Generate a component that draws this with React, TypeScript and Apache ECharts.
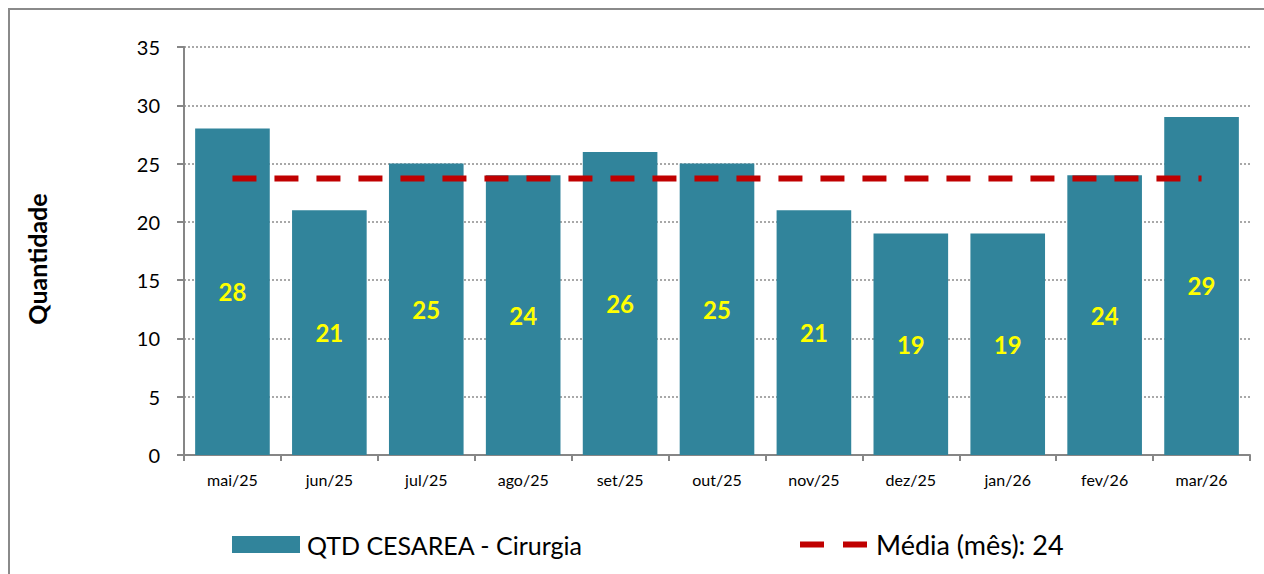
import React, { useEffect, useRef } from "react";
import * as echarts from "echarts";

const categories = ["mai/25", "jun/25", "jul/25", "ago/25", "set/25", "out/25", "nov/25", "dez/25", "jan/26", "fev/26", "mar/26"];
const cesareaValues = [28, 21, 25, 24, 26, 25, 21, 19, 19, 24, 29];
const mediaValues = [23.73, 23.73, 23.73, 23.73, 23.73, 23.73, 23.73, 23.73, 23.73, 23.73, 23.73];
const barName = "QTD CESAREA - Cirurgia";
const mediaName = "Média (mês): 24";
const yTitle = "Quantidade";

const FONT = "Lato, 'Open Sans', sans-serif";

export default function App() {
  const ref = useRef<HTMLDivElement>(null);
  useEffect(() => {
    if (!ref.current) return;
    const chart = echarts.init(ref.current, null, { renderer: "svg" });
    chart.setOption({
      animation: false,
      backgroundColor: "#ffffff",
      textStyle: { fontFamily: FONT },
      graphic: [
        {
          type: "rect",
          shape: { x: 9, y: 9, width: 1400, height: 700 },
          style: { fill: "none", stroke: "#8a8a8a", lineWidth: 2 },
          silent: true,
          z: -10,
        },
        {
          type: "text",
          x: 37,
          y: 259,
          rotation: Math.PI / 2,
          style: {
            text: yTitle,
            fill: "#000",
            font: "bold 25px " + FONT,
            align: "center",
            verticalAlign: "middle",
          },
          silent: true,
        },
      ],
      grid: { left: 184, right: 14, top: 47, bottom: 119 },
      legend: [
        {
          data: [barName],
          left: 232,
          top: 532,
          padding: 0,
          icon: "rect",
          itemWidth: 68,
          itemHeight: 17,
          textStyle: { fontSize: 25, color: "#000", fontFamily: FONT, padding: [0, 0, 0, 2] },
        },
        {
          data: [mediaName],
          left: 800,
          top: 531,
          padding: 0,
          icon: "path://M0,0h24v6h-24z M43,0h24v6h-24z",
          itemWidth: 67,
          itemHeight: 6,
          itemStyle: { color: "#C00000" },
          textStyle: { fontSize: 27, color: "#000", fontFamily: FONT, padding: [0, 0, 0, 4] },
        },
      ],
      xAxis: {
        type: "category",
        data: categories,
        axisLine: { lineStyle: { color: "#868686", width: 2 } },
        axisTick: { show: true, length: 6, lineStyle: { color: "#868686", width: 2 } },
        axisLabel: { color: "#000", fontSize: 16, margin: 16, fontFamily: FONT },
      },
      yAxis: {
        type: "value",
        min: 0,
        max: 35,
        interval: 5,
        axisLine: { show: true, lineStyle: { color: "#868686", width: 2 } },
        axisTick: { show: true, length: 7, lineStyle: { color: "#868686", width: 2 } },
        axisLabel: { color: "#000", fontSize: 20, margin: 24, fontFamily: FONT },
        splitLine: { show: true, lineStyle: { color: "#8c8c8c", width: 1.5, type: [2, 2] } },
      },
      series: [
        {
          name: barName,
          type: "bar",
          data: cesareaValues,
          barCategoryGap: "23%",
          itemStyle: { color: "#31849B" },
          label: {
            show: true,
            position: "inside",
            color: "#FFFF00",
            fontSize: 24,
            fontWeight: "bold",
            fontFamily: FONT,
          },
          z: 2,
        },
        {
          name: mediaName,
          type: "line",
          data: mediaValues,
          symbol: "none",
          lineStyle: { color: "#C00000", width: 6, type: [24, 18] },
          itemStyle: { color: "#C00000" },
          z: 3,
        },
      ],
    });
    return () => chart.dispose();
  }, []);
  return (
    <div
      ref={ref}
      style={{ position: "absolute", left: 0, top: 0, width: 1264, height: 574 }}
    />
  );
}
